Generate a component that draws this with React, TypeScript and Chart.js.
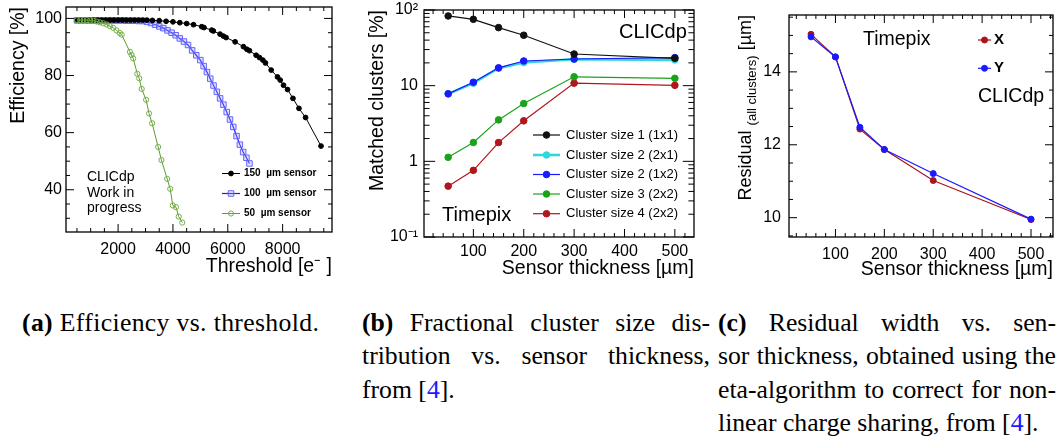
import React, { useEffect, useRef } from 'react';
import { Chart, registerables } from 'chart.js';

Chart.register(...registerables);

// ---------------- Panel (a): efficiency vs threshold ----------------
const thr150 = [500, 650, 800, 950, 1100, 1250, 1400, 1550, 1700, 1850, 2000, 2150, 2300, 2450, 2600, 2750, 2900, 3050, 3250, 3500, 3750, 4000, 4250, 4500, 4750, 5049, 5133, 5414, 5473, 5718, 5839, 5938, 6267, 6570, 6694, 6790, 7034, 7155, 7279, 7374, 7583, 7813, 7912, 8032, 8179, 8376, 8595, 8837, 9400];
const eff150 = [99.4, 99.4, 99.4, 99.4, 99.4, 99.4, 99.4, 99.4, 99.4, 99.4, 99.4, 99.4, 99.4, 99.4, 99.4, 99.4, 99.4, 99.4, 99.3, 99.2, 99.0, 98.8, 98.5, 98.2, 97.8, 97.1, 96.8, 95.9, 95.6, 94.5, 93.8, 93.3, 91.8, 90.1, 89.2, 88.7, 87.1, 86.3, 85.4, 84.4, 81.9, 79.5, 78.4, 76.6, 75.1, 72.0, 68.5, 65.3, 55.3];

const thr100 = [500, 650, 800, 950, 1100, 1250, 1400, 1550, 1700, 1850, 2000, 2150, 2300, 2450, 2600, 2750, 2900, 3050, 3200, 3350, 3500, 3650, 3800, 3950, 4100, 4250, 4400, 4550, 4700, 4850, 5000, 5120, 5240, 5360, 5480, 5600, 5720, 5840, 5960, 6080, 6200, 6320, 6440, 6560, 6680, 6790];
const eff100 = [99.3, 99.3, 99.3, 99.3, 99.3, 99.3, 99.3, 99.3, 99.3, 99.3, 99.3, 99.3, 99.2, 99.2, 99.2, 99.1, 99.1, 98.8, 98.4, 97.8, 97.2, 96.6, 95.8, 95.0, 94.1, 93.0, 91.9, 90.7, 88.8, 87.1, 85.4, 83.3, 81.2, 78.9, 76.5, 74.3, 72.0, 69.8, 67.2, 64.6, 62.0, 58.8, 55.8, 53.2, 51.2, 49.2];

const thr50 = [500, 620, 740, 860, 980, 1100, 1220, 1340, 1460, 1580, 1700, 1820, 1940, 2060, 2130, 2430, 2490, 2550, 2700, 2770, 2860, 3020, 3130, 3240, 3460, 3580, 3790, 3900, 3995, 4110, 4210, 4340];
const eff50 = [99.4, 99.4, 99.4, 99.4, 99.3, 99.2, 98.9, 98.6, 98.3, 97.9, 97.3, 96.7, 95.8, 94.9, 94.3, 88.3, 87.2, 86.0, 80.6, 79.0, 75.3, 71.5, 66.7, 63.3, 55.0, 50.4, 43.8, 40.3, 34.5, 33.9, 30.6, 28.5];

const effTicksX = [2000, 4000, 6000, 8000];
const effTicksY = [40, 60, 80, 100];

// ---------------- Panel (b): cluster size fractions ----------------
const thickness = [50, 100, 150, 200, 300, 500];
const size1x1 = [83.4, 75.3, 58.5, 46.4, 26.2, 23.0];
const size2x1 = [7.8, 10.8, 17.0, 20.2, 22.3, 21.9];
const size1x2 = [7.8, 11.1, 17.2, 21.2, 22.5, 23.5];
const size3 = [1.13, 1.77, 3.53, 5.8, 13.1, 12.5];
const size4 = [0.47, 0.76, 1.77, 3.43, 10.8, 10.1];
const clusterTicksY = [0.1, 1, 10, 100];
const clusterTickLabels = ['10\u207B\u00B9', '1', '10', '10\u00B2'];
const thicknessTicks = [100, 200, 300, 400, 500];

// ---------------- Panel (c): residual width ----------------
const residualX = [15.03, 14.41, 12.43, 11.87, 11.02, 9.95];
const residualY = [14.96, 14.41, 12.48, 11.87, 11.21, 9.96];
const residTicksY = [10, 12, 14];

const SANS = '"Liberation Sans", Arial, Helvetica, sans-serif';

const pts = (xs: number[], ys: number[]) => xs.map((x, i) => ({ x, y: ys[i] }));

// Frame with inward ROOT-like ticks on all four sides
const framePlugin = {
  id: 'rootFrame',
  afterDatasetsDraw(chart: any, _args: any, opts: any) {
    if (!opts || !opts.enabled) return;
    const { ctx, chartArea: a, scales } = chart;
    const xs = scales.x, ys = scales.y;
    const MAJ = 8, MIN = 4;
    ctx.save();
    ctx.strokeStyle = '#000';
    ctx.lineWidth = 1;
    const seg = (x1: number, y1: number, x2: number, y2: number) => {
      ctx.beginPath(); ctx.moveTo(x1, y1); ctx.lineTo(x2, y2); ctx.stroke();
    };
    const isMult = (v: number, m: number) => Math.abs(v / m - Math.round(v / m)) < 1e-6;
    for (let v = Math.ceil(xs.min / opts.xMinor) * opts.xMinor; v <= xs.max + 1e-9; v += opts.xMinor) {
      const p = xs.getPixelForValue(v);
      const len = isMult(v, opts.xMajor) ? MAJ : MIN;
      seg(p, a.bottom, p, a.bottom - len);
      seg(p, a.top, p, a.top + len);
    }
    if (opts.logY) {
      for (let e = -2; e <= 3; e++) {
        for (let k = 1; k <= 9; k++) {
          const v = k * Math.pow(10, e);
          if (v < ys.min * 0.9999 || v > ys.max * 1.0001) continue;
          const p = ys.getPixelForValue(v);
          const len = k === 1 ? MAJ * 1.4 : MIN * 1.4;
          seg(a.left, p, a.left + len, p);
          seg(a.right, p, a.right - len, p);
        }
      }
    } else {
      for (let v = Math.ceil(ys.min / opts.yMinor) * opts.yMinor; v <= ys.max + 1e-9; v += opts.yMinor) {
        const p = ys.getPixelForValue(v);
        const len = isMult(v, opts.yMajor) ? MAJ : MIN;
        seg(a.left, p, a.left + len, p);
        seg(a.right, p, a.right - len, p);
      }
    }
    ctx.lineWidth = 1.3;
    ctx.strokeRect(a.left, a.top, a.right - a.left, a.bottom - a.top);
    ctx.restore();
  },
};

const textPlugin = {
  id: 'panelText',
  afterDraw(chart: any, _args: any, opts: any) {
    if (!opts) return;
    const ctx = chart.ctx;
    ctx.save();
    ctx.fillStyle = '#000';
    ctx.textBaseline = 'middle';
    for (const t of opts.items || []) {
      ctx.font = `${t.bold ? 'bold ' : ''}${t.size}px ${SANS}`;
      ctx.textAlign = t.align || 'left';
      ctx.fillText(t.text, t.x, t.y);
    }
    if (opts.rich) {
      const r = opts.rich;
      ctx.translate(r.x, r.top);
      ctx.rotate(-Math.PI / 2);
      ctx.textAlign = 'left';
      ctx.textBaseline = 'alphabetic';
      const parts = r.parts;
      let total = 0;
      for (const p of parts) {
        ctx.font = `${p.size}px ${SANS}`;
        total += ctx.measureText(p.text).width;
      }
      let cx = -total;
      for (const p of parts) {
        ctx.font = `${p.size}px ${SANS}`;
        ctx.fillText(p.text, cx, p.dy || 0);
        cx += ctx.measureText(p.text).width;
      }
    }
    ctx.restore();
  },
};

const legendPlugin = {
  id: 'panelLegend',
  afterDraw(chart: any, _args: any, opts: any) {
    if (!opts || !opts.entries) return;
    const ctx = chart.ctx;
    ctx.save();
    for (const e of opts.entries) {
      const ds = chart.data.datasets[e.index];
      ctx.strokeStyle = ds.borderColor;
      ctx.lineWidth = e.lineWidth || ds.borderWidth;
      ctx.beginPath(); ctx.moveTo(opts.x1, e.y); ctx.lineTo(opts.x2, e.y); ctx.stroke();
      const r = ds.pointRadius;
      const mx = (opts.x1 + opts.x2) / 2;
      ctx.fillStyle = ds.pointBackgroundColor;
      ctx.strokeStyle = ds.pointBorderColor;
      ctx.lineWidth = ds.pointBorderWidth || 1;
      ctx.beginPath();
      if (ds.pointStyle === 'rect') {
        const s = r / Math.SQRT2;
        ctx.rect(mx - s, e.y - s, 2 * s, 2 * s);
      } else {
        ctx.arc(mx, e.y, r, 0, Math.PI * 2);
      }
      ctx.fill(); ctx.stroke();
      ctx.fillStyle = '#000';
      ctx.font = `${opts.bold ? 'bold ' : ''}${opts.size}px ${SANS}`;
      ctx.textAlign = 'left';
      ctx.textBaseline = 'middle';
      ctx.fillText(e.label, opts.tx, e.y);
    }
    ctx.restore();
  },
};

Chart.register(framePlugin as any, textPlugin as any, legendPlugin as any);

const baseAxis = (size: number) => ({
  grid: { display: false, drawTicks: false },
  border: { display: false },
  ticks: { color: '#000', font: { size, family: SANS }, autoSkip: false, maxRotation: 0, minRotation: 0 },
});

function xAxis(min: number, max: number, ticks: number[], height: number, pad: number, title: string, titlePadBottom: number, fontSize = 16) {
  const b: any = baseAxis(fontSize);
  return {
    type: 'linear',
    min, max,
    ...b,
    ticks: { ...b.ticks, padding: pad, callback: (v: any) => String(v) },
    afterBuildTicks: (s: any) => { s.ticks = ticks.map((v) => ({ value: v })); },
    afterFit: (s: any) => { s.height = height; s.paddingLeft = 0; s.paddingRight = 0; },
    title: { display: true, text: title, align: 'end', color: '#000', font: { size: 19.5, family: SANS }, padding: { top: 0, bottom: titlePadBottom } },
  };
}

function yAxis(type: string, min: number, max: number, ticks: number[], labels: string[] | null, width: number, pad: number, title: string | null, titlePadTop: number) {
  const b: any = baseAxis(16);
  return {
    type,
    min, max,
    ...b,
    ticks: { ...b.ticks, padding: pad, callback: (v: any) => { if (labels) { const i = ticks.indexOf(v); return i >= 0 ? labels[i] : ''; } return String(v); } },
    afterBuildTicks: (s: any) => { s.ticks = ticks.map((v) => ({ value: v })); },
    afterFit: (s: any) => { s.width = width; s.paddingTop = 0; s.paddingBottom = 0; },
    title: title ? { display: true, text: title, align: 'end', color: '#000', font: { size: 19.5, family: SANS }, padding: { top: titlePadTop, bottom: 0 } } : { display: false },
  };
}

const common = {
  responsive: false,
  animation: false,
  events: [] as any[],
  elements: { line: { tension: 0 } },
};

function configA(): any {
  return {
    type: 'line',
    data: {
      datasets: [
        { label: '50 µm sensor', data: pts(thr50, eff50), borderColor: '#5c9e2e', borderWidth: 1, pointStyle: 'circle', pointRadius: 2.6, pointBackgroundColor: 'rgba(255,255,255,0)', pointBorderColor: '#74b04a', pointBorderWidth: 1 },
        { label: '150 µm sensor', data: pts(thr150, eff150), borderColor: '#000', borderWidth: 1, pointStyle: 'circle', pointRadius: 2.4, pointBackgroundColor: '#000', pointBorderColor: '#000', pointBorderWidth: 1 },
        { label: '100 µm sensor', data: pts(thr100, eff100), borderColor: '#1818ff', borderWidth: 1.2, pointStyle: 'rect', pointRadius: 3.9, pointBackgroundColor: 'rgba(160,160,255,0.3)', pointBorderColor: '#6464ff', pointBorderWidth: 1 },
      ],
    },
    options: {
      ...common,
      layout: { padding: { left: 0, top: 7, right: 18, bottom: 0 } },
      plugins: {
        legend: { display: false }, tooltip: { enabled: false },
        rootFrame: { enabled: true, xMinor: 500, xMajor: 2000, yMinor: 5, yMajor: 20 },
        panelText: { items: [
          { text: 'CLICdp', x: 87, y: 177, size: 14 },
          { text: 'Work in', x: 87, y: 193, size: 14 },
          { text: 'progress', x: 87, y: 208.5, size: 14 },
        ] },
        panelLegend: { x1: 222, x2: 240, tx: 244, size: 10, bold: true, entries: [
          { index: 1, label: '150  µm sensor', y: 173.5 },
          { index: 2, label: '100  µm sensor', y: 193.5 },
          { index: 0, label: '50  µm sensor', y: 213.5 },
        ] },
      },
      scales: {
        x: xAxis(100, 9800, effTicksX, 58, 8, 'Threshold [e\u207B ]', 12),
        y: yAxis('linear', 25.2, 104, effTicksY, null, 66, 4, 'Efficiency [%]', 6.5),
      },
    },
  };
}

function configB(): any {
  const dot = (c: string, w = 1.2, order = 0) => ({ borderColor: c, borderWidth: w, pointStyle: 'circle', pointRadius: 3.3, pointBackgroundColor: c, pointBorderColor: c, pointBorderWidth: 1, order });
  return {
    type: 'line',
    data: {
      datasets: [
        { label: 'Cluster size 1 (1x1)', data: pts(thickness, size1x1), ...dot('#111111') },
        { label: 'Cluster size 2 (2x1)', data: pts(thickness, size2x1), ...dot('#33d6dc', 2.6, 1) },
        { label: 'Cluster size 2 (1x2)', data: pts(thickness, size1x2), ...dot('#1a1aff') },
        { label: 'Cluster size 3 (2x2)', data: pts(thickness, size3), ...dot('#1aa31a') },
        { label: 'Cluster size 4 (2x2)', data: pts(thickness, size4), ...dot('#b0161c') },
      ],
    },
    options: {
      ...common,
      layout: { padding: { left: 0, top: 10, right: 16, bottom: 0 } },
      plugins: {
        legend: { display: false }, tooltip: { enabled: false },
        rootFrame: { enabled: true, xMinor: 20, xMajor: 100, logY: true },
        panelText: { items: [
          { text: 'CLICdp', x: 269, y: 32, size: 20 },
          { text: 'Timepix', x: 92, y: 215, size: 20 },
        ] },
        panelLegend: { x1: 183, x2: 210, tx: 216, size: 13, bold: false, entries: [
          { index: 0, label: 'Cluster size 1 (1x1)', y: 135 },
          { index: 1, label: 'Cluster size 2 (2x1)', y: 155 },
          { index: 2, label: 'Cluster size 2 (1x2)', y: 174.5 },
          { index: 3, label: 'Cluster size 3 (2x2)', y: 194 },
          { index: 4, label: 'Cluster size 4 (2x2)', y: 213.7 },
        ] },
      },
      scales: {
        x: xAxis(2, 538, thicknessTicks, 53, 5, 'Sensor thickness [µm]', 9.7),
        y: yAxis('logarithmic', 0.1, 100, clusterTicksY, clusterTickLabels, 74, 6, 'Matched clusters [%]', 16.3),
      },
    },
  };
}

function configC(): any {
  const dot = (c: string, order = 0) => ({ borderColor: c, borderWidth: 1.2, pointStyle: 'circle', pointRadius: 3, pointBackgroundColor: c, pointBorderColor: c, pointBorderWidth: 1, order });
  return {
    type: 'line',
    data: {
      datasets: [
        { label: 'X', data: pts(thickness, residualX), ...dot('#a8141a', 1) },
        { label: 'Y', data: pts(thickness, residualY), ...dot('#1a1aff') },
      ],
    },
    options: {
      ...common,
      layout: { padding: { left: 0, top: 15, right: 7, bottom: 0 } },
      plugins: {
        legend: { display: false }, tooltip: { enabled: false },
        rootFrame: { enabled: true, xMinor: 20, xMajor: 100, yMinor: 0.5, yMajor: 2 },
        panelText: {
          items: [
            { text: 'Timepix', x: 153, y: 40, size: 19.5 },
            { text: 'CLICdp', x: 268, y: 97, size: 19.5 },
          ],
          rich: { x: 40.5, top: 15, parts: [
            { text: 'Residual ', size: 18 },
            { text: '(all clusters)', size: 13, dy: 5 },
            { text: ' [µm]', size: 18 },
          ] },
        },
        panelLegend: { x1: 268, x2: 281, tx: 284, size: 15, bold: true, entries: [
          { index: 0, label: 'X', y: 40 },
          { index: 1, label: 'Y', y: 68.3 },
        ] },
      },
      scales: {
        x: xAxis(5, 545, thicknessTicks, 53, 8, 'Sensor thickness [µm]', 9),
        y: yAxis('linear', 9.47, 15.56, residTicksY, null, 79, 8, null, 0),
      },
    },
  };
}

function Panel({ make, left, width, height }: { make: () => any; left: number; width: number; height: number }) {
  const ref = useRef<HTMLCanvasElement>(null);
  useEffect(() => {
    const chart = new Chart(ref.current as HTMLCanvasElement, make());
    return () => chart.destroy();
  }, []);
  return (
    <div style={{ position: 'absolute', left, top: 0, width, height }}>
      <canvas ref={ref} width={width} height={height} style={{ width, height, display: 'block' }} />
    </div>
  );
}

const capFont: React.CSSProperties = {
  position: 'absolute',
  fontFamily: '"Liberation Serif", "Times New Roman", serif',
  fontSize: 25.7,
  lineHeight: '33.4px',
  color: '#000',
  whiteSpace: 'nowrap',
};
const just: React.CSSProperties = { textAlign: 'justify', textAlignLast: 'justify' as any, whiteSpace: 'normal' };
const ref4 = <span style={{ color: '#1a1aff' }}>4</span>;

export default function App() {
  return (
    <div style={{ position: 'fixed', left: 0, top: 0, width: 1060, height: 439, background: '#fff', overflow: 'hidden' }}>
      <Panel make={configA} left={0} width={350} height={290} />
      <Panel make={configB} left={350} width={360} height={290} />
      <Panel make={configC} left={710} width={350} height={290} />
      <div style={{ ...capFont, left: 22, top: 306, letterSpacing: '0.35px' }}><b>(a)</b> Efficiency vs. threshold.</div>
      <div style={{ ...capFont, left: 362, top: 306, width: 348 }}>
        <div style={just}><b>(b)</b> Fractional cluster size dis-</div>
        <div style={just}>tribution vs. sensor thickness,</div>
        <div>from [{ref4}].</div>
      </div>
      <div style={{ ...capFont, left: 718, top: 306, width: 338 }}>
        <div style={just}><b>(c)</b> Residual width vs. sen-</div>
        <div style={just}>sor thickness, obtained using the</div>
        <div style={just}>eta-algorithm to correct for non-</div>
        <div>linear charge sharing, from [{ref4}].</div>
      </div>
    </div>
  );
}
